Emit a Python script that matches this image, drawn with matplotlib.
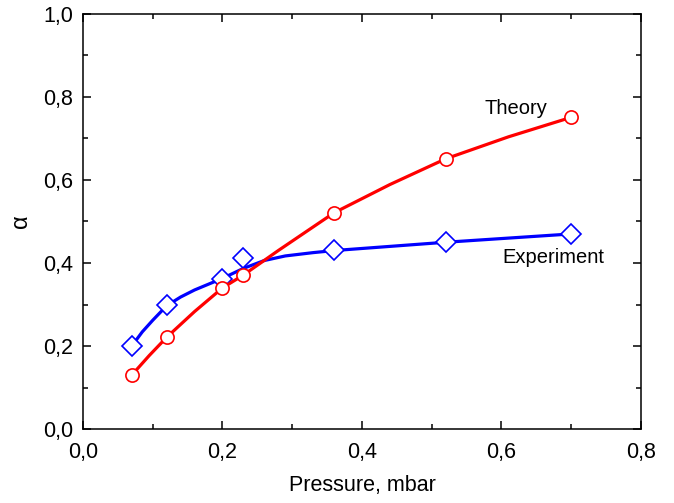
import numpy as np
import matplotlib
matplotlib.use('Agg')
import matplotlib.pyplot as plt
from matplotlib.ticker import MultipleLocator, FuncFormatter

plt.rcParams['font.family'] = ['Liberation Sans', 'DejaVu Sans']

# measured points
pressure = [0.07, 0.12, 0.20, 0.23, 0.36, 0.52, 0.70]
alpha_theory = [0.13, 0.221, 0.34, 0.371, 0.521, 0.651, 0.751]
alpha_exp = [0.20, 0.30, 0.362, 0.413, 0.431, 0.451, 0.470]

# smooth curves
theory_curve_x = [0.07, 0.095, 0.12, 0.16, 0.20, 0.23, 0.28, 0.36, 0.44, 0.52, 0.61, 0.70]
theory_curve_y = [0.13, 0.177, 0.221, 0.283, 0.34, 0.371, 0.43, 0.521, 0.589, 0.651, 0.704, 0.751]
exp_curve_x = [0.07, 0.085, 0.10, 0.12, 0.14, 0.16, 0.18, 0.20, 0.23, 0.26, 0.29, 0.33, 0.36, 0.44, 0.52, 0.61, 0.70]
exp_curve_y = [0.20, 0.234, 0.262, 0.297, 0.318, 0.335, 0.349, 0.363, 0.387, 0.406, 0.417, 0.425, 0.430, 0.440, 0.450, 0.460, 0.470]

fig = plt.figure(figsize=(6.74, 5.03), dpi=100)
ax = fig.add_axes([0.1231, 0.1471, 0.8279, 0.8251])

# experiment
ax.plot(exp_curve_x, exp_curve_y, color='#0000ff', lw=2.3, zorder=2, solid_joinstyle='round')
ax.plot(pressure, alpha_exp, ls='none', marker='D', ms=10.5, mfc='white', mec='#0000ff', mew=1.2, zorder=3)
# theory
ax.plot(theory_curve_x, theory_curve_y, color='#ff0000', lw=2.3, zorder=4, solid_joinstyle='round')
ax.plot(pressure, alpha_theory, ls='none', marker='o', ms=9.5, mfc='white', mec='#ff0000', mew=1.2, zorder=5)

ax.text(0.6205, 0.773, 'Theory', fontsize=14.5, ha='center', va='center')
ax.text(0.675, 0.413, 'Experiment', fontsize=14.5, ha='center', va='center')

ax.set_xlim(0, 0.8)
ax.set_ylim(0, 1.0)
ax.xaxis.set_major_locator(MultipleLocator(0.2))
ax.xaxis.set_minor_locator(MultipleLocator(0.1))
ax.yaxis.set_major_locator(MultipleLocator(0.2))
ax.yaxis.set_minor_locator(MultipleLocator(0.1))
comma = FuncFormatter(lambda v, p: ('%.1f' % v).replace('.', ','))
ax.xaxis.set_major_formatter(comma)
ax.yaxis.set_major_formatter(comma)
ax.tick_params(which='both', direction='in', top=True, right=True, width=1.1, labelsize=15.5)
ax.tick_params(which='major', length=6, pad=7)
ax.tick_params(axis='x', which='major', pad=9)
ax.tick_params(which='minor', length=3.5)
for s in ax.spines.values():
    s.set_linewidth(1.1)

ax.set_xlabel('Pressure, mbar', fontsize=15.5, labelpad=9)
ax.set_ylabel('α', fontsize=17, labelpad=8)

fig.savefig('out.png', dpi=100)
